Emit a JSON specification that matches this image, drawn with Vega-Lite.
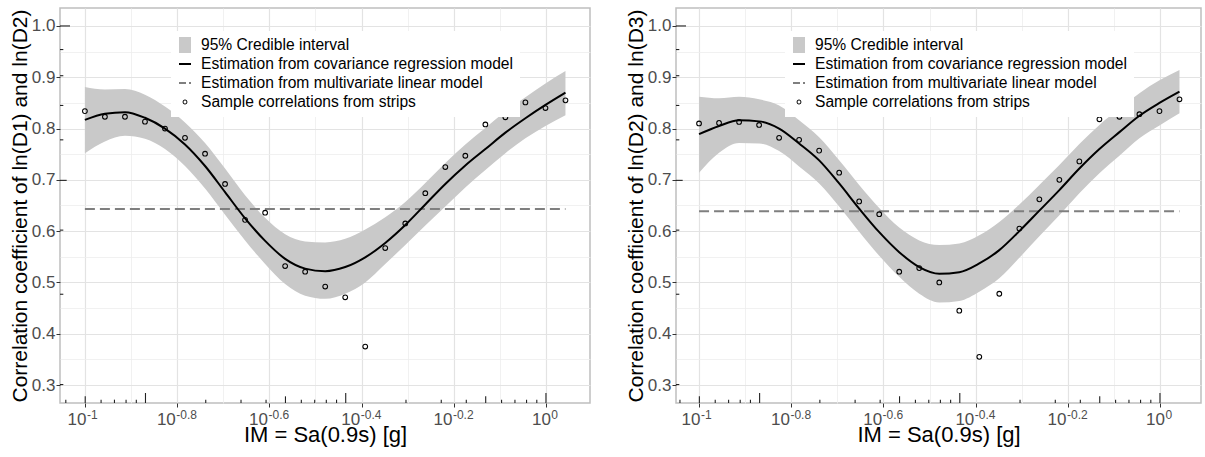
{
  "$schema": "https://vega.github.io/schema/vega-lite/v6.json",
  "background": "white",
  "padding": {"left": 8, "top": 7, "right": 0, "bottom": 0},
  "spacing": 33,
  "config": {
    "font": "Liberation Sans",
    "view": {"stroke": "#BEBEBE", "strokeWidth": 1.5},
    "axis": {"labelFont": "Liberation Sans", "titleFont": "Liberation Sans"},
    "legend": {"labelFont": "Liberation Sans"}
  },
  "datasets": {
    "left": [
      {"logIM": -1.0000, "r": 0.834, "fit": 0.817, "lo": 0.752, "hi": 0.881},
      {"logIM": -0.9566, "r": 0.823, "fit": 0.829, "lo": 0.775, "hi": 0.876},
      {"logIM": -0.9131, "r": 0.823, "fit": 0.832, "lo": 0.786, "hi": 0.877},
      {"logIM": -0.8697, "r": 0.8135, "fit": 0.821, "lo": 0.780, "hi": 0.866},
      {"logIM": -0.8263, "r": 0.800, "fit": 0.800, "lo": 0.760, "hi": 0.843},
      {"logIM": -0.7829, "r": 0.782, "fit": 0.769, "lo": 0.727, "hi": 0.812},
      {"logIM": -0.7394, "r": 0.751, "fit": 0.727, "lo": 0.683, "hi": 0.772},
      {"logIM": -0.6960, "r": 0.692, "fit": 0.676, "lo": 0.632, "hi": 0.722},
      {"logIM": -0.6526, "r": 0.622, "fit": 0.625, "lo": 0.582, "hi": 0.670},
      {"logIM": -0.6091, "r": 0.636, "fit": 0.581, "lo": 0.536, "hi": 0.626},
      {"logIM": -0.5657, "r": 0.532, "fit": 0.546, "lo": 0.497, "hi": 0.594},
      {"logIM": -0.5223, "r": 0.521, "fit": 0.527, "lo": 0.474, "hi": 0.580},
      {"logIM": -0.4788, "r": 0.492, "fit": 0.522, "lo": 0.468, "hi": 0.578},
      {"logIM": -0.4354, "r": 0.471, "fit": 0.530, "lo": 0.478, "hi": 0.585},
      {"logIM": -0.3920, "r": 0.375, "fit": 0.549, "lo": 0.500, "hi": 0.603},
      {"logIM": -0.3486, "r": 0.567, "fit": 0.577, "lo": 0.536, "hi": 0.627},
      {"logIM": -0.3051, "r": 0.615, "fit": 0.612, "lo": 0.573, "hi": 0.657},
      {"logIM": -0.2617, "r": 0.674, "fit": 0.652, "lo": 0.611, "hi": 0.694},
      {"logIM": -0.2183, "r": 0.725, "fit": 0.692, "lo": 0.648, "hi": 0.733},
      {"logIM": -0.1749, "r": 0.747, "fit": 0.728, "lo": 0.685, "hi": 0.769},
      {"logIM": -0.1314, "r": 0.808, "fit": 0.760, "lo": 0.719, "hi": 0.801},
      {"logIM": -0.0880, "r": 0.822, "fit": 0.792, "lo": 0.752, "hi": 0.833},
      {"logIM": -0.0446, "r": 0.851, "fit": 0.820, "lo": 0.781, "hi": 0.861},
      {"logIM": -0.0011, "r": 0.840, "fit": 0.846, "lo": 0.805, "hi": 0.888},
      {"logIM": 0.0423, "r": 0.855, "fit": 0.870, "lo": 0.826, "hi": 0.912}
    ],
    "right": [
      {"logIM": -1.0000, "r": 0.810, "fit": 0.789, "lo": 0.714, "hi": 0.862},
      {"logIM": -0.9566, "r": 0.811, "fit": 0.805, "lo": 0.753, "hi": 0.859},
      {"logIM": -0.9131, "r": 0.813, "fit": 0.816, "lo": 0.772, "hi": 0.862},
      {"logIM": -0.8697, "r": 0.807, "fit": 0.814, "lo": 0.771, "hi": 0.857},
      {"logIM": -0.8263, "r": 0.782, "fit": 0.800, "lo": 0.756, "hi": 0.845},
      {"logIM": -0.7829, "r": 0.778, "fit": 0.771, "lo": 0.726, "hi": 0.816},
      {"logIM": -0.7394, "r": 0.757, "fit": 0.738, "lo": 0.693, "hi": 0.783},
      {"logIM": -0.6960, "r": 0.714, "fit": 0.693, "lo": 0.648, "hi": 0.738},
      {"logIM": -0.6526, "r": 0.658, "fit": 0.644, "lo": 0.599, "hi": 0.690},
      {"logIM": -0.6091, "r": 0.633, "fit": 0.598, "lo": 0.552, "hi": 0.645},
      {"logIM": -0.5657, "r": 0.521, "fit": 0.559, "lo": 0.511, "hi": 0.607},
      {"logIM": -0.5223, "r": 0.528, "fit": 0.530, "lo": 0.478, "hi": 0.582},
      {"logIM": -0.4788, "r": 0.500, "fit": 0.517, "lo": 0.461, "hi": 0.573},
      {"logIM": -0.4354, "r": 0.445, "fit": 0.520, "lo": 0.464, "hi": 0.576},
      {"logIM": -0.3920, "r": 0.355, "fit": 0.537, "lo": 0.482, "hi": 0.592},
      {"logIM": -0.3486, "r": 0.478, "fit": 0.563, "lo": 0.508, "hi": 0.618},
      {"logIM": -0.3051, "r": 0.605, "fit": 0.600, "lo": 0.548, "hi": 0.652},
      {"logIM": -0.2617, "r": 0.662, "fit": 0.640, "lo": 0.590, "hi": 0.690},
      {"logIM": -0.2183, "r": 0.700, "fit": 0.680, "lo": 0.631, "hi": 0.729},
      {"logIM": -0.1749, "r": 0.736, "fit": 0.722, "lo": 0.674, "hi": 0.770},
      {"logIM": -0.1314, "r": 0.818, "fit": 0.760, "lo": 0.713, "hi": 0.807},
      {"logIM": -0.0880, "r": 0.823, "fit": 0.793, "lo": 0.747, "hi": 0.839},
      {"logIM": -0.0446, "r": 0.828, "fit": 0.825, "lo": 0.781, "hi": 0.869},
      {"logIM": -0.0011, "r": 0.834, "fit": 0.850, "lo": 0.806, "hi": 0.894},
      {"logIM": 0.0423, "r": 0.857, "fit": 0.872, "lo": 0.830, "hi": 0.914}
    ],
    "ticks_x": [
      {"pos": -1.0414, "kind": "short"}, {"pos": -0.9993, "kind": "mid"}, {"pos": -0.9649, "kind": "short"},
      {"pos": -0.9359, "kind": "short"}, {"pos": -0.9107, "kind": "short"}, {"pos": -0.8885, "kind": "short"},
      {"pos": -0.8686, "kind": "long"}, {"pos": -0.7379, "kind": "short"}, {"pos": -0.6614, "kind": "short"},
      {"pos": -0.6071, "kind": "short"}, {"pos": -0.5650, "kind": "mid"}, {"pos": -0.5306, "kind": "short"},
      {"pos": -0.5016, "kind": "short"}, {"pos": -0.4764, "kind": "short"}, {"pos": -0.4542, "kind": "short"},
      {"pos": -0.4343, "kind": "long"}, {"pos": -0.3036, "kind": "short"}, {"pos": -0.2271, "kind": "short"},
      {"pos": -0.1728, "kind": "short"}, {"pos": -0.1307, "kind": "mid"}, {"pos": -0.0963, "kind": "short"},
      {"pos": -0.0673, "kind": "short"}, {"pos": -0.0421, "kind": "short"}, {"pos": -0.0199, "kind": "short"},
      {"pos": 0.0, "kind": "long"}
    ],
    "ticks_y": [
      {"pos": 0.301, "kind": "short"}, {"pos": 0.477, "kind": "short"}, {"pos": 0.602, "kind": "short"},
      {"pos": 0.699, "kind": "mid"}, {"pos": 0.778, "kind": "short"}, {"pos": 0.845, "kind": "short"},
      {"pos": 0.903, "kind": "short"}, {"pos": 0.954, "kind": "short"}, {"pos": 1.0, "kind": "long"}
    ]
  },
  "resolve": {
    "scale": {"x": "independent", "y": "independent", "fill": "independent", "shape": "independent"},
    "legend": {"fill": "independent", "shape": "independent"}
  },
  "hconcat": [
    {
      "width": 530,
      "height": 395,
      "resolve": {"axis": {"x": "independent", "y": "independent"}},
      "layer": [
        {
          "data": {"name": "left"},
          "mark": {"type": "area", "color": "#C9C9C9", "interpolate": "monotone", "opacity": 1},
          "encoding": {
            "x": {"field": "logIM", "type": "quantitative",
              "scale": {"domain": [-1.054, 0.0955], "nice": false, "zero": false},
              "axis": {
                "values": [-1, -0.9, -0.8, -0.7, -0.6, -0.5, -0.4, -0.3, -0.2, -0.1, 0],
                "title": "IM = Sa(0.9s) [g]",
                "grid": true,
                "gridColor": {"condition": {"test": "abs(datum.value*5 - round(datum.value*5)) < 1e-6", "value": "#E3E3E3"}, "value": "#EDEDED"},
                "gridWidth": {"condition": {"test": "abs(datum.value*5 - round(datum.value*5)) < 1e-6", "value": 1.2}, "value": 0.8},
                "domain": false,
                "ticks": true, "tickSize": 4, "tickColor": "#333333",
                "tickOpacity": {"condition": {"test": "abs(datum.value*5 - round(datum.value*5)) < 1e-6", "value": 1}, "value": 0},
                "labelExpr": "abs(datum.value*5 - round(datum.value*5)) < 1e-6 ? '10' : ''",
                "labelAlign": "right",
                "labelOffset": {"condition": [{"test": "datum.value == 0", "value": 4.4}, {"test": "datum.value == -1", "value": 1}], "value": -1.8},
                "labelFlush": false, "labelOverlap": false,
                "labelFontSize": 17, "labelColor": "#4D4D4D", "labelPadding": 4.5,
                "titleFontSize": 22, "titleColor": "#000000", "titleFontWeight": "normal", "titlePadding": -3
              }
            },
            "y": {"field": "lo", "type": "quantitative",
              "scale": {"domain": [0.265, 1.035], "nice": false, "zero": false},
              "axis": {
                "values": [0.3, 0.35, 0.4, 0.45, 0.5, 0.55, 0.6, 0.65, 0.7, 0.75, 0.8, 0.85, 0.9, 0.95, 1.0],
                "title": "Correlation coefficient of ln(D1) and ln(D2)",
                "grid": true,
                "gridColor": {"condition": {"test": "abs(datum.value*10 - round(datum.value*10)) < 1e-6", "value": "#E3E3E3"}, "value": "#EDEDED"},
                "gridWidth": {"condition": {"test": "abs(datum.value*10 - round(datum.value*10)) < 1e-6", "value": 1.2}, "value": 0.8},
                "domain": false,
                "ticks": true, "tickSize": 4, "tickColor": "#333333",
                "tickOpacity": {"condition": {"test": "abs(datum.value*10 - round(datum.value*10)) < 1e-6", "value": 1}, "value": 0},
                "labelExpr": "abs(datum.value*10 - round(datum.value*10)) < 1e-6 ? format(datum.value, '.1f') : ''",
                "labelOverlap": false, "labelFlush": false,
                "labelFontSize": 17, "labelColor": "#4D4D4D", "labelPadding": 1,
                "titleFontSize": 21, "titleColor": "#000000", "titleFontWeight": "normal", "titlePadding": 1
              }
            },
            "y2": {"field": "hi"}
          }
        },
        {
          "data": {"name": "left"},
          "mark": {"type": "line", "color": "#7F7F7F", "strokeWidth": 2, "strokeDash": [10, 5]},
          "encoding": {
            "x": {"field": "logIM", "type": "quantitative", "axis": null},
            "y": {"datum": 0.643, "axis": null}
          }
        },
        {
          "data": {"name": "left"},
          "mark": {"type": "line", "color": "#000000", "strokeWidth": 2, "interpolate": "monotone"},
          "encoding": {
            "x": {"field": "logIM", "type": "quantitative", "axis": null},
            "y": {"field": "fit", "type": "quantitative", "axis": null}
          }
        },
        {
          "data": {"name": "left"},
          "mark": {"type": "point", "shape": "circle", "filled": false, "stroke": "#000000", "strokeWidth": 1.1, "size": 22, "opacity": 1},
          "encoding": {
            "x": {"field": "logIM", "type": "quantitative",
              "axis": {
                "values": [-1, -0.8, -0.6, -0.4, -0.2, 0],
                "orient": "bottom", "title": null, "grid": false, "domain": false, "ticks": false,
                "labelExpr": "'' + datum.value",
                "labelAlign": "left", "labelBaseline": "top",
                "labelOffset": {"condition": [{"test": "datum.value == 0", "value": 4.9}, {"test": "datum.value == -1", "value": 1.5}], "value": -1.3},
                "labelFlush": false, "labelOverlap": false,
                "labelFontSize": 12, "labelColor": "#4D4D4D", "labelPadding": 6.4
              }
            },
            "y": {"field": "r", "type": "quantitative", "axis": null}
          }
        },
        {
          "data": {"name": "ticks_x"},
          "transform": [{"filter": "datum.kind == 'long'"}],
          "mark": {"type": "rule", "color": "#222222", "strokeWidth": 1.1},
          "encoding": {"x": {"field": "pos", "type": "quantitative", "axis": null}, "y": {"datum": 0.265, "axis": null}, "y2": {"datum": 0.2845}}
        },
        {
          "data": {"name": "ticks_x"},
          "transform": [{"filter": "datum.kind == 'mid'"}],
          "mark": {"type": "rule", "color": "#222222", "strokeWidth": 1.1},
          "encoding": {"x": {"field": "pos", "type": "quantitative", "axis": null}, "y": {"datum": 0.265, "axis": null}, "y2": {"datum": 0.278}}
        },
        {
          "data": {"name": "ticks_x"},
          "transform": [{"filter": "datum.kind == 'short'"}],
          "mark": {"type": "rule", "color": "#222222", "strokeWidth": 1.1},
          "encoding": {"x": {"field": "pos", "type": "quantitative", "axis": null}, "y": {"datum": 0.265, "axis": null}, "y2": {"datum": 0.2715}}
        },
        {
          "data": {"name": "ticks_y"},
          "transform": [{"filter": "datum.kind == 'long'"}],
          "mark": {"type": "rule", "color": "#222222", "strokeWidth": 1.1},
          "encoding": {"y": {"field": "pos", "type": "quantitative", "axis": null}, "x": {"datum": -1.054, "axis": null}, "x2": {"datum": -1.0323}}
        },
        {
          "data": {"name": "ticks_y"},
          "transform": [{"filter": "datum.kind == 'mid'"}],
          "mark": {"type": "rule", "color": "#222222", "strokeWidth": 1.1},
          "encoding": {"y": {"field": "pos", "type": "quantitative", "axis": null}, "x": {"datum": -1.054, "axis": null}, "x2": {"datum": -1.0395}}
        },
        {
          "data": {"name": "ticks_y"},
          "transform": [{"filter": "datum.kind == 'short'"}],
          "mark": {"type": "rule", "color": "#222222", "strokeWidth": 1.1},
          "encoding": {"y": {"field": "pos", "type": "quantitative", "axis": null}, "x": {"datum": -1.054, "axis": null}, "x2": {"datum": -1.0468}}
        },
        {
          "data": {"values": [
            {"key": "95% Credible interval"},
            {"key": "Estimation from covariance regression model"},
            {"key": "Estimation from multivariate linear model"},
            {"key": "Sample correlations from strips"}
          ]},
          "mark": {"type": "point", "filled": true, "clip": true, "opacity": 1},
          "encoding": {
            "x": {"datum": 5, "type": "quantitative", "axis": null},
            "y": {"datum": 5, "type": "quantitative", "axis": null},
            "fill": {"field": "key", "type": "nominal",
              "scale": {"domain": ["95% Credible interval", "Estimation from covariance regression model", "Estimation from multivariate linear model", "Sample correlations from strips"],
                        "range": ["#C9C9C9", "#000000", "#7F7F7F", "#000000"]},
              "legend": {"orient": "none", "legendX": 111, "legendY": 23, "title": null, "fillColor": "white", "padding": 6,
                         "symbolSize": 256, "symbolStrokeWidth": 0, "symbolFillColor": "#000000", "symbolStrokeColor": "transparent", "symbolOpacity": 1,
                         "labelFontSize": 15.6, "labelColor": "#000000",
                         "labelOffset": 8, "rowPadding": 2, "labelLimit": 0}},
            "shape": {"field": "key", "type": "nominal",
              "scale": {"domain": ["95% Credible interval", "Estimation from covariance regression model", "Estimation from multivariate linear model", "Sample correlations from strips"],
                        "range": ["M-0.75,-1H0.75V1H-0.75Z", "M-0.75,-0.125H0.75V0.125H-0.75Z", "M-0.75,-0.125H0.125V0.125H-0.75Z M0.5,-0.125H0.75V0.125H0.5Z", "M0.3,0A0.3,0.3,0,1,1,-0.3,0A0.3,0.3,0,1,1,0.3,0Z M0.19,0A0.19,0.19,0,1,0,-0.19,0A0.19,0.19,0,1,0,0.19,0Z"]}}
          }
        }
      ]
    },
    {
      "width": 525,
      "height": 395,
      "resolve": {"axis": {"x": "independent", "y": "independent"}},
      "layer": [
        {
          "data": {"name": "right"},
          "mark": {"type": "area", "color": "#C9C9C9", "interpolate": "monotone", "opacity": 1},
          "encoding": {
            "x": {"field": "logIM", "type": "quantitative",
              "scale": {"domain": [-1.05, 0.089], "nice": false, "zero": false},
              "axis": {
                "values": [-1, -0.9, -0.8, -0.7, -0.6, -0.5, -0.4, -0.3, -0.2, -0.1, 0],
                "title": "IM = Sa(0.9s) [g]",
                "grid": true,
                "gridColor": {"condition": {"test": "abs(datum.value*5 - round(datum.value*5)) < 1e-6", "value": "#E3E3E3"}, "value": "#EDEDED"},
                "gridWidth": {"condition": {"test": "abs(datum.value*5 - round(datum.value*5)) < 1e-6", "value": 1.2}, "value": 0.8},
                "domain": false,
                "ticks": true, "tickSize": 4, "tickColor": "#333333",
                "tickOpacity": {"condition": {"test": "abs(datum.value*5 - round(datum.value*5)) < 1e-6", "value": 1}, "value": 0},
                "labelExpr": "abs(datum.value*5 - round(datum.value*5)) < 1e-6 ? '10' : ''",
                "labelAlign": "right",
                "labelOffset": {"condition": [{"test": "datum.value == 0", "value": 4.4}, {"test": "datum.value == -1", "value": 1}], "value": -1.8},
                "labelFlush": false, "labelOverlap": false,
                "labelFontSize": 17, "labelColor": "#4D4D4D", "labelPadding": 4.5,
                "titleFontSize": 22, "titleColor": "#000000", "titleFontWeight": "normal", "titlePadding": -3
              }
            },
            "y": {"field": "lo", "type": "quantitative",
              "scale": {"domain": [0.265, 1.035], "nice": false, "zero": false},
              "axis": {
                "values": [0.3, 0.35, 0.4, 0.45, 0.5, 0.55, 0.6, 0.65, 0.7, 0.75, 0.8, 0.85, 0.9, 0.95, 1.0],
                "title": "Correlation coefficient of ln(D2) and ln(D3)",
                "grid": true,
                "gridColor": {"condition": {"test": "abs(datum.value*10 - round(datum.value*10)) < 1e-6", "value": "#E3E3E3"}, "value": "#EDEDED"},
                "gridWidth": {"condition": {"test": "abs(datum.value*10 - round(datum.value*10)) < 1e-6", "value": 1.2}, "value": 0.8},
                "domain": false,
                "ticks": true, "tickSize": 4, "tickColor": "#333333",
                "tickOpacity": {"condition": {"test": "abs(datum.value*10 - round(datum.value*10)) < 1e-6", "value": 1}, "value": 0},
                "labelExpr": "abs(datum.value*10 - round(datum.value*10)) < 1e-6 ? format(datum.value, '.1f') : ''",
                "labelOverlap": false, "labelFlush": false,
                "labelFontSize": 17, "labelColor": "#4D4D4D", "labelPadding": 1,
                "titleFontSize": 21, "titleColor": "#000000", "titleFontWeight": "normal", "titlePadding": 1
              }
            },
            "y2": {"field": "hi"}
          }
        },
        {
          "data": {"name": "right"},
          "mark": {"type": "line", "color": "#7F7F7F", "strokeWidth": 2, "strokeDash": [10, 5]},
          "encoding": {
            "x": {"field": "logIM", "type": "quantitative", "axis": null},
            "y": {"datum": 0.639, "axis": null}
          }
        },
        {
          "data": {"name": "right"},
          "mark": {"type": "line", "color": "#000000", "strokeWidth": 2, "interpolate": "monotone"},
          "encoding": {
            "x": {"field": "logIM", "type": "quantitative", "axis": null},
            "y": {"field": "fit", "type": "quantitative", "axis": null}
          }
        },
        {
          "data": {"name": "right"},
          "mark": {"type": "point", "shape": "circle", "filled": false, "stroke": "#000000", "strokeWidth": 1.1, "size": 22, "opacity": 1},
          "encoding": {
            "x": {"field": "logIM", "type": "quantitative",
              "axis": {
                "values": [-1, -0.8, -0.6, -0.4, -0.2, 0],
                "orient": "bottom", "title": null, "grid": false, "domain": false, "ticks": false,
                "labelExpr": "'' + datum.value",
                "labelAlign": "left", "labelBaseline": "top",
                "labelOffset": {"condition": [{"test": "datum.value == 0", "value": 4.9}, {"test": "datum.value == -1", "value": 1.5}], "value": -1.3},
                "labelFlush": false, "labelOverlap": false,
                "labelFontSize": 12, "labelColor": "#4D4D4D", "labelPadding": 6.4
              }
            },
            "y": {"field": "r", "type": "quantitative", "axis": null}
          }
        },
        {
          "data": {"name": "ticks_x"},
          "transform": [{"filter": "datum.kind == 'long'"}],
          "mark": {"type": "rule", "color": "#222222", "strokeWidth": 1.1},
          "encoding": {"x": {"field": "pos", "type": "quantitative", "axis": null}, "y": {"datum": 0.265, "axis": null}, "y2": {"datum": 0.2845}}
        },
        {
          "data": {"name": "ticks_x"},
          "transform": [{"filter": "datum.kind == 'mid'"}],
          "mark": {"type": "rule", "color": "#222222", "strokeWidth": 1.1},
          "encoding": {"x": {"field": "pos", "type": "quantitative", "axis": null}, "y": {"datum": 0.265, "axis": null}, "y2": {"datum": 0.278}}
        },
        {
          "data": {"name": "ticks_x"},
          "transform": [{"filter": "datum.kind == 'short'"}],
          "mark": {"type": "rule", "color": "#222222", "strokeWidth": 1.1},
          "encoding": {"x": {"field": "pos", "type": "quantitative", "axis": null}, "y": {"datum": 0.265, "axis": null}, "y2": {"datum": 0.2715}}
        },
        {
          "data": {"name": "ticks_y"},
          "transform": [{"filter": "datum.kind == 'long'"}],
          "mark": {"type": "rule", "color": "#222222", "strokeWidth": 1.1},
          "encoding": {"y": {"field": "pos", "type": "quantitative", "axis": null}, "x": {"datum": -1.05, "axis": null}, "x2": {"datum": -1.0283}}
        },
        {
          "data": {"name": "ticks_y"},
          "transform": [{"filter": "datum.kind == 'mid'"}],
          "mark": {"type": "rule", "color": "#222222", "strokeWidth": 1.1},
          "encoding": {"y": {"field": "pos", "type": "quantitative", "axis": null}, "x": {"datum": -1.05, "axis": null}, "x2": {"datum": -1.0355}}
        },
        {
          "data": {"name": "ticks_y"},
          "transform": [{"filter": "datum.kind == 'short'"}],
          "mark": {"type": "rule", "color": "#222222", "strokeWidth": 1.1},
          "encoding": {"y": {"field": "pos", "type": "quantitative", "axis": null}, "x": {"datum": -1.05, "axis": null}, "x2": {"datum": -1.0428}}
        },
        {
          "data": {"values": [
            {"key": "95% Credible interval"},
            {"key": "Estimation from covariance regression model"},
            {"key": "Estimation from multivariate linear model"},
            {"key": "Sample correlations from strips"}
          ]},
          "mark": {"type": "point", "filled": true, "clip": true, "opacity": 1},
          "encoding": {
            "x": {"datum": 5, "type": "quantitative", "axis": null},
            "y": {"datum": 5, "type": "quantitative", "axis": null},
            "fill": {"field": "key", "type": "nominal",
              "scale": {"domain": ["95% Credible interval", "Estimation from covariance regression model", "Estimation from multivariate linear model", "Sample correlations from strips"],
                        "range": ["#C9C9C9", "#000000", "#7F7F7F", "#000000"]},
              "legend": {"orient": "none", "legendX": 109, "legendY": 23, "title": null, "fillColor": "white", "padding": 6,
                         "symbolSize": 256, "symbolStrokeWidth": 0, "symbolFillColor": "#000000", "symbolStrokeColor": "transparent", "symbolOpacity": 1,
                         "labelFontSize": 15.6, "labelColor": "#000000",
                         "labelOffset": 8, "rowPadding": 2, "labelLimit": 0}},
            "shape": {"field": "key", "type": "nominal",
              "scale": {"domain": ["95% Credible interval", "Estimation from covariance regression model", "Estimation from multivariate linear model", "Sample correlations from strips"],
                        "range": ["M-0.75,-1H0.75V1H-0.75Z", "M-0.75,-0.125H0.75V0.125H-0.75Z", "M-0.75,-0.125H0.125V0.125H-0.75Z M0.5,-0.125H0.75V0.125H0.5Z", "M0.3,0A0.3,0.3,0,1,1,-0.3,0A0.3,0.3,0,1,1,0.3,0Z M0.19,0A0.19,0.19,0,1,0,-0.19,0A0.19,0.19,0,1,0,0.19,0Z"]}}
          }
        }
      ]
    }
  ]
}
